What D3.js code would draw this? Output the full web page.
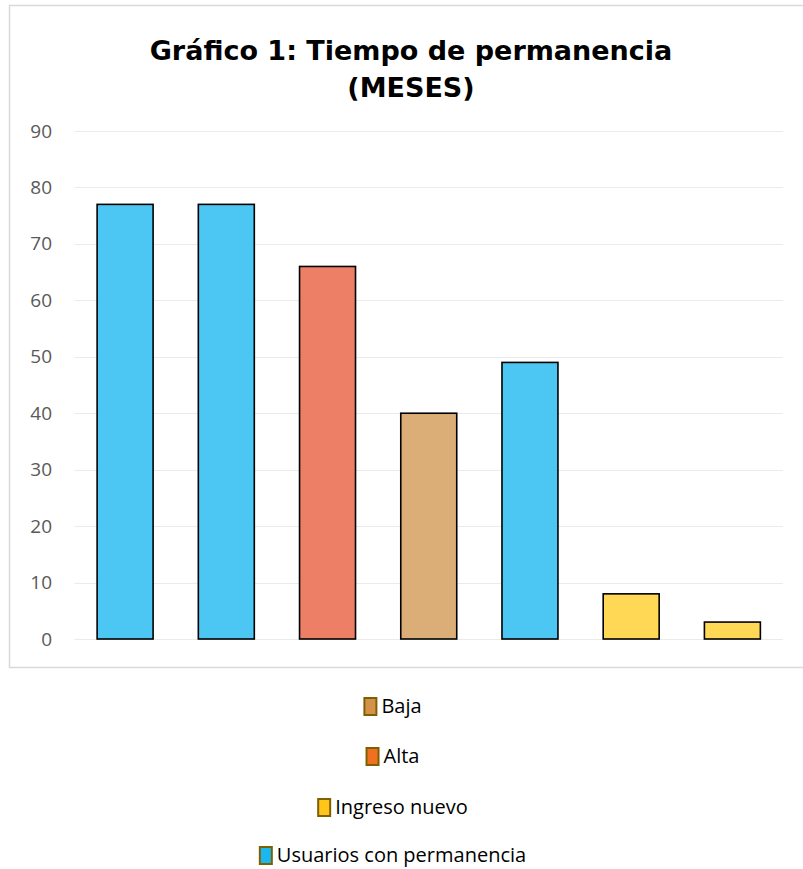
<!DOCTYPE html>
<html><head><meta charset="utf-8">
<script src="https://cdn.jsdelivr.net/npm/d3@7"></script>
<style>body{margin:0;background:#fff}svg{display:block}</style>
</head><body>
<svg id="c" width="803" height="869"></svg>
<script>
const categories = ["c1","c2","c3","c4","c5","c6","c7"];
const values = [77, 77, 66, 40, 49, 8, 3];
const groups = ["Usuarios con permanencia","Usuarios con permanencia","Alta","Baja","Usuarios con permanencia","Ingreso nuevo","Ingreso nuevo"];
const yTicks = [0,10,20,30,40,50,60,70,80,90];
const legendItems = ["Baja","Alta","Ingreso nuevo","Usuarios con permanencia"];
const titleLines = ["Gráfico 1: Tiempo de permanencia","(MESES)"];

const barColor = {"Usuarios con permanencia":"#4cc7f3","Alta":"#ed7f66","Baja":"#dcae77","Ingreso nuevo":"#ffd956"};
const legendColor = {"Baja":"#d4914a","Alta":"#f07021","Ingreso nuevo":"#ffc518","Usuarios con permanencia":"#1ab8f0"};

const svg = d3.select("#c");
svg.append("rect").attr("x",9.5).attr("y",5.5).attr("width",820).attr("height",662)
  .attr("fill","#fff").attr("stroke","#d9d9d9").attr("stroke-width",1.5);

const y = d3.scaleLinear().domain([0,90]).range([639,131]);
const x = d3.scaleBand().domain(categories).range([74.5,783]).paddingInner(0.447).paddingOuter(0.2235);

const g = svg.append("g");
g.selectAll("line.grid").data(yTicks).join("line").attr("class","grid")
  .attr("x1",74.5).attr("x2",783).attr("y1",d=>Math.round(y(d))+0.5).attr("y2",d=>Math.round(y(d))+0.5)
  .attr("stroke","#ebebeb").attr("stroke-width",1.2);

const yAxis = d3.axisLeft(y).tickValues(yTicks).tickSize(0).tickPadding(0);
const ax = svg.append("g").attr("transform","translate(52,0)").call(yAxis);
ax.select(".domain").remove();
ax.selectAll("text").attr("fill","#595959").style("font-family","'Open Sans', 'Liberation Sans', sans-serif").style("font-size","19px");

g.selectAll("rect.bar").data(categories).join("rect").attr("class","bar")
  .attr("x",d=>x(d)).attr("width",x.bandwidth())
  .attr("y",(d,i)=>y(values[i])).attr("height",(d,i)=>y(0)-y(values[i]))
  .attr("fill",(d,i)=>barColor[groups[i]]).attr("stroke","#000").attr("stroke-width",1.6);

const t = svg.append("text").attr("text-anchor","middle")
  .style("font-family","'DejaVu Sans', sans-serif").style("font-weight","bold").style("font-size","27px").attr("fill","#000");
titleLines.forEach((l,i)=>t.append("tspan").attr("x",411).attr("y",60+i*37).text(l));

const leg = svg.append("g");
const legY = [706,756,807,855];
legendItems.forEach((name,i)=>{
  const gi = leg.append("g");
  const txt = gi.append("text").attr("y",legY[i]+7).text(name)
    .style("font-family","'Open Sans', 'Liberation Sans', sans-serif").style("font-size","20px").attr("fill","#000");
  const w = txt.node().getComputedTextLength();
  const boxW = 12, gap = 5;
  const total = boxW + gap + w;
  const x0 = 393 - total/2;
  gi.append("rect").attr("x",x0).attr("y",legY[i]-8).attr("width",boxW).attr("height",17)
    .attr("fill",legendColor[name]).attr("stroke","#7f6000").attr("stroke-width",2);
  txt.attr("x",x0+boxW+gap);
});
</script>
</body></html>
